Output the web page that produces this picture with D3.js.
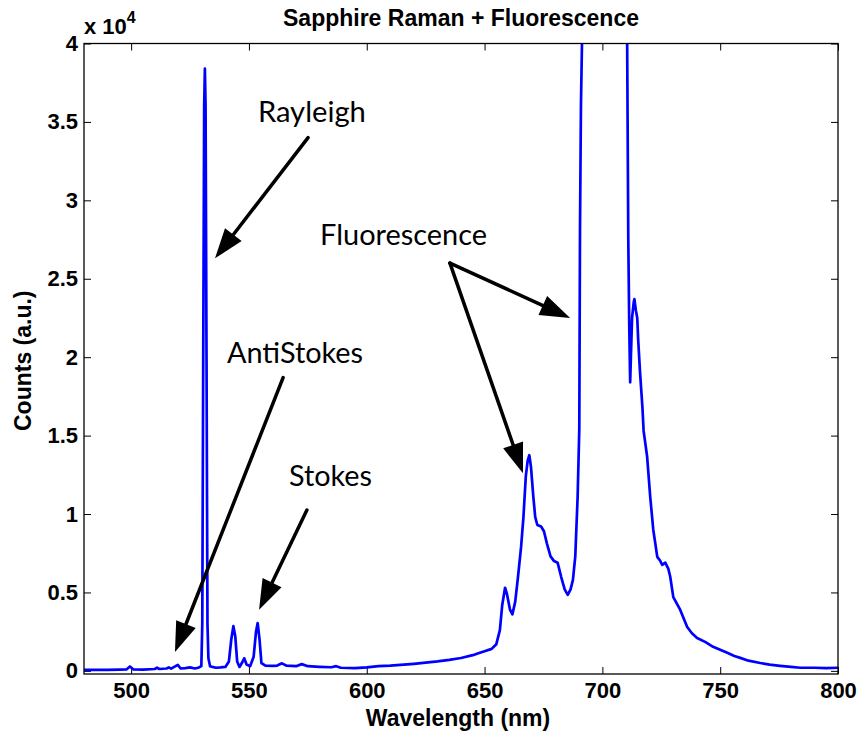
<!DOCTYPE html>
<html>
<head>
<meta charset="utf-8">
<script src="https://cdn.jsdelivr.net/npm/d3@7"></script>
<style>
  html, body { margin: 0; padding: 0; background: #fff; }
  svg { display: block; }
  .tick text { font-family: "Liberation Sans", Arial, sans-serif; font-weight: bold; font-size: 22px; fill: #000; }
  .tick line { stroke: #000; stroke-width: 1; }
  .lbl { font-family: "Liberation Sans", Arial, sans-serif; font-weight: bold; font-size: 23px; fill: #000; }
</style>
</head>
<body>
<svg id="chart" width="860" height="735"></svg>
<script>
// Spectrum: wavelength (nm) and detector counts
const wavelength = [
  480, 485, 490, 495, 498, 499.5, 501, 505, 510, 511, 512, 515, 516, 517, 519.8, 521, 523, 525, 527, 528.5,
  529.8, 530.2, 530.6, 531.0, 531.3, 531.6, 532.0, 532.4, 532.8, 533.5, 534.5, 536, 538, 540, 541.5, 542.5,
  543.4, 544.2, 545, 546, 547, 548, 549, 550.5, 552, 553, 553.7, 554.5, 555.3, 557, 560, 562, 564, 566, 570,
  572.4, 575, 580, 585, 587, 589, 595, 600, 605, 610, 620, 630, 635, 640, 645, 648, 650, 653, 655, 656.5,
  657.5, 658.7, 659.5, 660.8, 661.8, 663, 664.2, 665.5, 666.5, 667.5, 668.3, 669, 669.7, 670.7, 671.5, 672.4,
  674, 675.2, 676.5, 678, 679.5, 681, 682.5, 684, 685.3, 686.5, 687.5, 688.5, 689.5, 690.2, 690.5, 690.9,
  691.4, 692, 700, 710, 710.5, 711.0, 711.4, 711.8, 712.1, 712.6, 713.3, 713.6, 714.2, 714.8, 715.2, 716, 717,
  717.5, 719, 720.3, 721.6, 723.3, 724.6, 725.4, 726.7, 728, 728.8, 730.1, 733, 736, 738, 740.2, 743.6, 747,
  750, 753, 756, 758.5, 762, 767, 771, 775.4, 780, 784, 790, 795, 800
];
const counts = [
  60, 70, 60, 80, 90, 280, 90, 80, 120, 200, 120, 150, 220, 140, 380, 150, 180, 220, 150, 200,
  300, 3000, 20000, 36000, 38400, 36000, 20000, 3000, 800, 300, 250, 200, 220, 250, 600, 2000,
  2850, 2200, 600, 250, 500, 800, 400, 300, 900, 2500, 3050, 2000, 500, 330, 320, 340, 480, 330, 300,
  430, 300, 260, 230, 300, 200, 180, 220, 300, 330, 450, 600, 700, 820, 1000, 1150, 1250, 1400, 1700, 2600,
  4200, 5300, 4900, 3900, 3600, 4400, 6000, 7900, 9800, 12400, 13400, 13750, 13000, 11100, 9800, 9300,
  9200, 8900, 8100, 7300, 7000, 6900, 6000, 5200, 4850, 5200, 5800, 7300, 11100, 15400, 28000, 36000,
  40500, 46000, 60000, 46000, 40500, 27500, 22000, 18400, 20000, 22500, 23500, 23700, 23000, 22500, 21100, 19000, 16800,
  15300, 13650, 11100, 9000, 7270, 7000, 6760, 6900, 6500, 6000, 4700, 3900, 2800, 2400, 2100, 1850, 1530,
  1340, 1150, 950, 830, 650, 500, 400, 320, 250, 200, 200, 170, 200
];

const xTickValues = [500, 550, 600, 650, 700, 750, 800];
const xTickLabels = ["500", "550", "600", "650", "700", "750", "800"];
const yTickValues = [0, 5000, 10000, 15000, 20000, 25000, 30000, 35000, 40000];
const yTickLabels = ["0", "0.5", "1", "1.5", "2", "2.5", "3", "3.5", "4"];

// Annotation labels and arrows, in data units (wavelength, counts)
const labelNames = ["Rayleigh", "AntiStokes", "Stokes", "Fluorescence"];
const labelAnchors = [[553.8, 35000], [540.7, 19600], [567.0, 11800], [580.2, 27150]];
const labelWidths = [108, 136, 83, 167];
const arrowFrom = [[575.1, 34000], [564.5, 18700], [574.6, 10250], [635.3, 26000], [635.3, 26000]];
const arrowTo = [[535.6, 26300], [518.6, 1200], [554.3, 3900], [686.3, 22500], [666.3, 12600]];

const svg = d3.select("#chart");
const plotLeft = 84, plotRight = 838, plotTop = 43.5, plotBottom = 674;

const x = d3.scaleLinear().domain([480, 800]).range([plotLeft, plotRight]);
const y = d3.scaleLinear().domain([-200, 40000]).range([plotBottom, plotTop]);

svg.append("defs").append("clipPath").attr("id", "plotclip")
  .append("rect").attr("x", plotLeft).attr("y", plotTop)
  .attr("width", plotRight - plotLeft).attr("height", plotBottom - plotTop);

// Axes with inward ticks on all four sides
const fmtX = (d) => xTickLabels[xTickValues.indexOf(d)];
const fmtY = (d) => yTickLabels[yTickValues.indexOf(d)];

const gx = svg.append("g").attr("transform", `translate(0,${plotBottom})`)
  .call(d3.axisBottom(x).tickValues(xTickValues).tickFormat(fmtX).tickSizeInner(-7).tickSizeOuter(0).tickPadding(8));
const gy = svg.append("g").attr("transform", `translate(${plotLeft},0)`)
  .call(d3.axisLeft(y).tickValues(yTickValues).tickFormat(fmtY).tickSizeInner(-7).tickSizeOuter(0).tickPadding(6));
const gxt = svg.append("g").attr("transform", `translate(0,${plotTop})`)
  .call(d3.axisTop(x).tickValues(xTickValues).tickFormat("").tickSizeInner(-7).tickSizeOuter(0));
const gyr = svg.append("g").attr("transform", `translate(${plotRight},0)`)
  .call(d3.axisRight(y).tickValues(yTickValues).tickFormat("").tickSizeInner(-7).tickSizeOuter(0));
[gx, gy, gxt, gyr].forEach(g => g.select(".domain").remove());

// Spectrum line
const pts = wavelength.map((w, i) => [w, counts[i]]);
svg.append("path")
  .attr("clip-path", "url(#plotclip)")
  .attr("d", d3.line().x(d => x(d[0])).y(d => y(d[1]))(pts))
  .attr("fill", "none")
  .attr("stroke", "#0000ff")
  .attr("stroke-width", 2.7)
  .attr("stroke-linejoin", "round");

// Frame
svg.append("rect")
  .attr("x", plotLeft).attr("y", plotTop)
  .attr("width", plotRight - plotLeft).attr("height", plotBottom - plotTop)
  .attr("fill", "none").attr("stroke", "#000").attr("stroke-width", 1.3);

// Exponent marker
const expo = svg.append("text").attr("class", "lbl")
  .attr("x", plotLeft).attr("y", plotTop - 9.5).style("font-size", "22px");
expo.append("tspan").text("x 10");
expo.append("tspan").attr("dy", -11).style("font-size", "16px").text("4");

// Title and axis labels
svg.append("text").attr("class", "lbl")
  .attr("x", 461).attr("y", 26).attr("text-anchor", "middle")
  .text("Sapphire Raman + Fluorescence");
svg.append("text").attr("class", "lbl")
  .attr("x", (plotLeft + plotRight) / 2 - 3).attr("y", 726).attr("text-anchor", "middle")
  .text("Wavelength (nm)");
svg.append("text").attr("class", "lbl")
  .attr("transform", `translate(31,${(plotTop + plotBottom) / 2 + 2}) rotate(-90)`).attr("text-anchor", "middle")
  .text("Counts (a.u.)");

// Annotations
labelNames.forEach((name, i) => {
  svg.append("text")
    .attr("x", x(labelAnchors[i][0])).attr("y", y(labelAnchors[i][1]))
    .attr("font-family", "Lato, 'Open Sans', sans-serif").attr("font-size", 28)
    .attr("textLength", labelWidths[i]).attr("lengthAdjust", "spacingAndGlyphs")
    .attr("fill", "#000")
    .text(name);
});

const headLen = 30, headHalf = 10.5;
arrowFrom.forEach((f, i) => {
  const x0 = x(f[0]), y0 = y(f[1]);
  const x1 = x(arrowTo[i][0]), y1 = y(arrowTo[i][1]);
  const dx = x1 - x0, dy = y1 - y0, len = Math.hypot(dx, dy);
  const ux = dx / len, uy = dy / len;
  const bx = x1 - ux * headLen, by = y1 - uy * headLen;
  svg.append("line")
    .attr("x1", x0).attr("y1", y0).attr("x2", bx + ux * 2).attr("y2", by + uy * 2)
    .attr("stroke", "#000").attr("stroke-width", 3.5).attr("stroke-linecap", "round");
  svg.append("path")
    .attr("d", `M${x1},${y1}L${bx - uy * headHalf},${by + ux * headHalf}L${bx + uy * headHalf},${by - ux * headHalf}Z`)
    .attr("fill", "#000");
});
</script>
</body>
</html>
